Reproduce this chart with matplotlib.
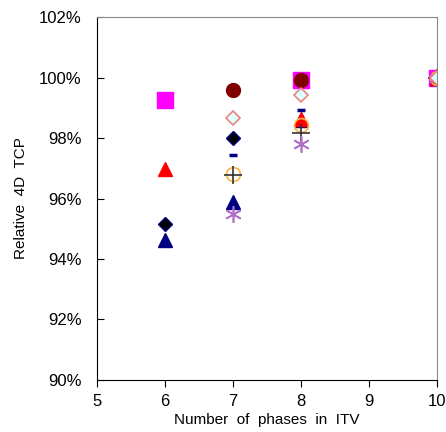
import matplotlib
matplotlib.use('Agg')
from matplotlib import pyplot as plt
from matplotlib.ticker import FuncFormatter

plt.rcParams['font.family'] = ['Liberation Sans', 'DejaVu Sans']

# phases in ITV and relative 4D TCP (%) per series
sq_x, sq_y = [6, 8, 10], [99.25, 99.92, 100.0]
circ_x, circ_y = [7, 8, 10], [99.6, 99.92, 100.0]
navtri_x, navtri_y = [6, 7, 8, 10], [94.63, 95.88, 98.6, 100.0]
redtri_x, redtri_y = [6, 8, 10], [96.97, 98.62, 100.0]
bdia_x, bdia_y = [6, 7, 10], [95.16, 98.0, 100.0]
dash_x, dash_y = [7, 8, 10], [97.44, 98.93, 100.0]
ocirc_x, ocirc_y = [7, 8, 10], [96.82, 98.42, 100.0]
plus_x, plus_y = [7, 8, 10], [96.78, 98.17, 100.0]
star_x, star_y = [7, 8, 10], [95.5, 97.8, 100.0]
pdia_x, pdia_y = [7, 8, 10], [98.66, 99.42, 100.0]

fig = plt.figure(figsize=(4.46, 4.32), dpi=100)
ax = fig.add_axes([0.2175, 0.1204, 0.7625, 0.8402])

ax.plot(sq_x, sq_y, marker='s', ms=12, color='#FF00FF', mec='#FF00FF', ls='none')
ax.plot(circ_x, circ_y, marker='o', ms=10, color='#800000', mec='#800000', ls='none')
ax.plot(navtri_x, navtri_y, marker='^', ms=10, color='#000080', mec='#000080', ls='none')
ax.plot(redtri_x, redtri_y, marker='^', ms=10, color='#FF0000', mec='#FF0000', ls='none')
ax.plot(bdia_x, bdia_y, marker='D', ms=7, color='#000000', mec='#000080', ls='none')
ax.plot(dash_x, dash_y, marker='_', ms=6, mew=2.5, color='#000080', ls='none')
ax.plot(ocirc_x, ocirc_y, marker='o', ms=10, mfc='none', mec='#FFB347', mew=1.2, ls='none')
ax.plot(plus_x, plus_y, marker='+', ms=13, mew=1.2, color='#333333', ls='none')
ax.plot(star_x, star_y, marker=(6, 2, 0), ms=12, mew=1.2, color='#B070C8', mec='#B070C8', ls='none')
ax.plot(pdia_x, pdia_y, marker='D', ms=7, mfc='#DDFFFF', mec='#F08080', mew=1.2, ls='none')

ax.set_xlim(5, 10)
ax.set_ylim(90, 102)
ax.set_xticks([5, 6, 7, 8, 9, 10])
ax.set_yticks([90, 92, 94, 96, 98, 100, 102])
ax.yaxis.set_major_formatter(FuncFormatter(lambda v, p: '%d%%' % v))

ax.spines['top'].set_color('#888888')
ax.spines['right'].set_color('#888888')
ax.tick_params(axis='y', direction='in', length=5, labelsize=12, pad=11)
ax.tick_params(axis='x', direction='out', length=5, labelsize=12, pad=5)

ax.set_xlabel('Number  of  phases  in  ITV', fontsize=11, labelpad=3)
ax.set_ylabel('Relative  4D  TCP', fontsize=11, labelpad=8)

fig.savefig('out.png', dpi=100)
